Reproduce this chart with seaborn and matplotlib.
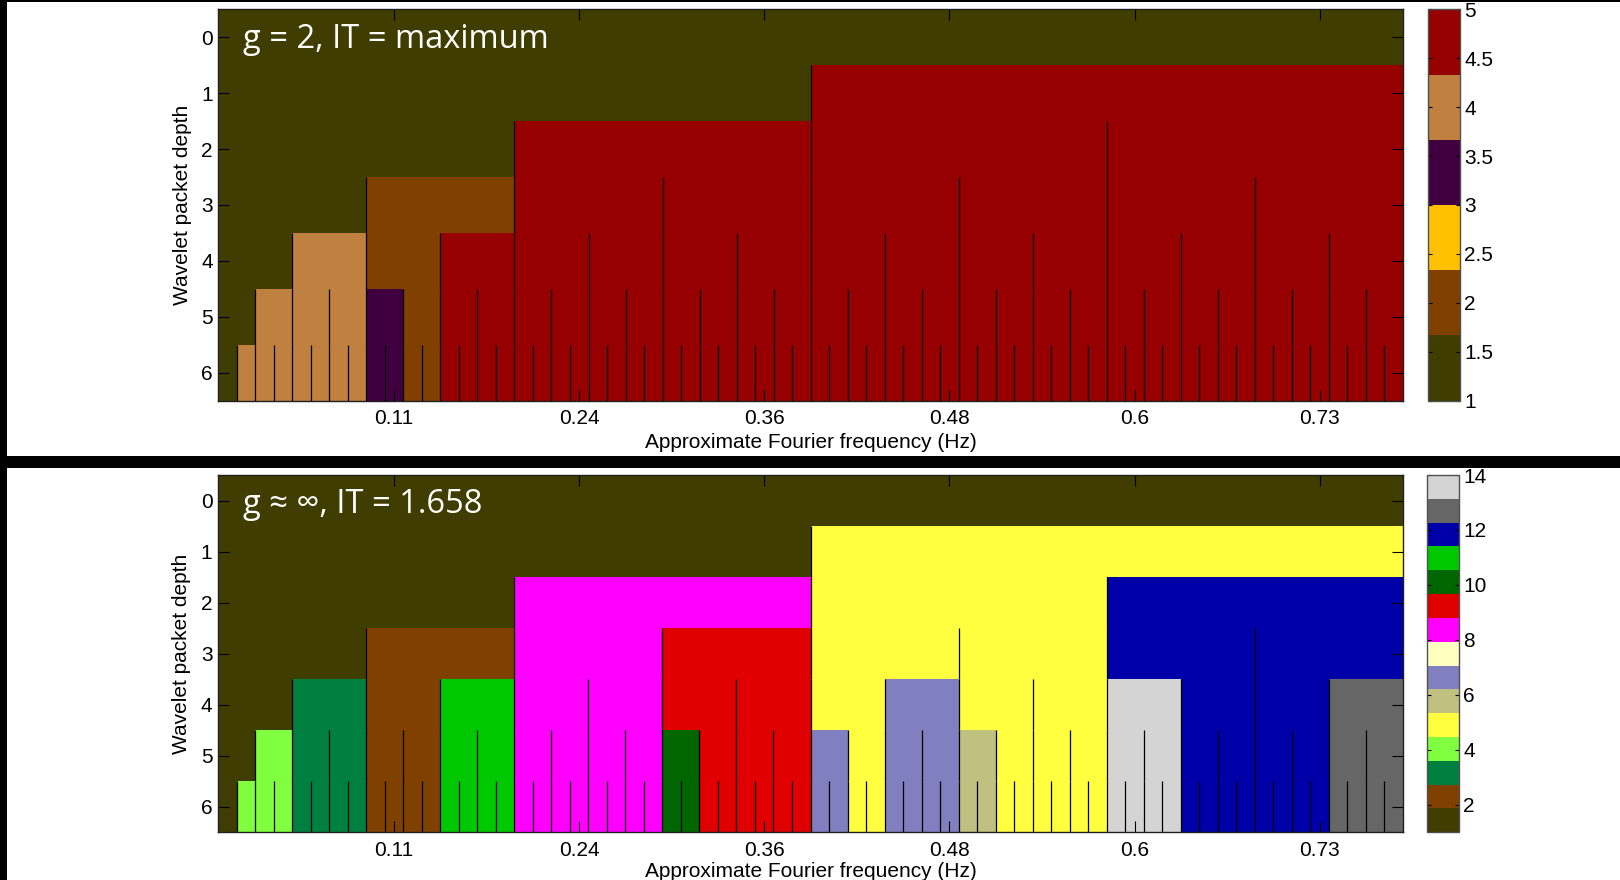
import numpy as np
import matplotlib
matplotlib.use("Agg")
import matplotlib.pyplot as plt
from matplotlib.colors import ListedColormap
from matplotlib.patches import Rectangle
import seaborn as sns

# ---------------------------------------------------------------------------
# Colour classes, listed from the bottom of each colour bar to the top
# ---------------------------------------------------------------------------
top_codes = ["K", "B", "Y", "P", "T", "R"]
top_colors = ["#3f3d00", "#804000", "#ffc000", "#400040", "#c08040", "#960000"]
top_range = (1, 5)
top_cbar_ticks = [1, 1.5, 2, 2.5, 3, 3.5, 4, 4.5, 5]

bottom_codes = ["K", "B", "G", "L", "Y", "H", "V", "C", "M", "R", "D", "N", "U", "A", "W"]
bottom_colors = ["#3f3d00", "#804000", "#008040", "#80ff40", "#ffff40", "#c0c080",
                 "#8080c0", "#ffffc0", "#ff00ff", "#e00000", "#006600", "#00c800",
                 "#0000a8", "#666666", "#d4d4d4"]
bottom_range = (1, 14)
bottom_cbar_ticks = [2, 4, 6, 8, 10, 12, 14]

# Class of every wavelet packet node, one string per depth (0..6),
# one letter per node from low to high frequency ("K" = split parent node)
top_tree = [
    "K",
    "KR",
    "KRRR",
    "KBRRRRRR",
    "KTBRRRRR RRRRRRRR",
    "KTTTPBRR RRRRRRRR RRRRRRRR RRRRRRRR",
    "KTTTTTTT PPBBRRRR RRRRRRRR RRRRRRRR RRRRRRRR RRRRRRRR RRRRRRRR RRRRRRRR",
]
bottom_tree = [
    "K",
    "KY",
    "KMYU",
    "KBMRYYUU",
    "KGBNMMRR YVYYWUUA",
    "KLGGBBNN MMMMDRRR VYVVHYYY WWUUUUAA",
    "KLLLGGGG BBBBNNNN MMMMMMMM DDRRRRRR VVYYVVVV HHYYYYYY WWWWUUUU UUUUAAAA",
]

# Frequency axis: bin numbers carrying a label and their labels
freq_tick_bins = [10, 20, 30, 40, 50, 60]
freq_tick_labels = ["0.11", "0.24", "0.36", "0.48", "0.6", "0.73"]
depths = [0, 1, 2, 3, 4, 5, 6]

top_title = "g = 2, IT = maximum"
bottom_title = "g \u2248 \u221e, IT = 1.658"

# ---------------------------------------------------------------------------
W, H = 1620, 880
plt.rcParams["font.family"] = ["Liberation Sans", "DejaVu Sans"]

fig = plt.figure(figsize=(W / 100, H / 100), dpi=100, facecolor="black")


def box(x0, y0, x1, y1):
    """Pixel box (top-left origin) -> figure fraction rect."""
    return [x0 / W, 1 - y1 / H, (x1 - x0) / W, (y1 - y0) / H]


# white panels on the black page
for (x0, y0, x1, y1) in [(7, 2, W, 456), (7, 468, W, H)]:
    r = box(x0, y0, x1, y1)
    fig.add_artist(Rectangle((r[0], r[1]), r[2], r[3], transform=fig.transFigure,
                             facecolor="white", edgecolor="none", zorder=-10))


def tree_matrix(tree, codes, lo, hi):
    n_leaf = 2 ** (len(tree) - 1)
    n = len(codes)
    rows = []
    for level in tree:
        nodes = level.replace(" ", "")
        span = n_leaf // len(nodes)
        vals = [lo + (codes.index(c) + 0.5) * (hi - lo) / n for c in nodes]
        rows.append(np.repeat(vals, span))
    return np.array(rows)


def draw_panel(ax, cax, tree, codes, colors, vrange, cticks, title, title_y):
    lo, hi = vrange
    data = tree_matrix(tree, codes, lo, hi)
    cmap = ListedColormap(colors)
    sns.heatmap(data, cmap=cmap, vmin=lo, vmax=hi, ax=ax, cbar_ax=cax,
                xticklabels=False, yticklabels=False,
                cbar_kws={"ticks": cticks})

    # node boundaries inside the decomposed part of the tree
    n_leaf = data.shape[1]
    xs, y0s, y1s = [], [], []
    for d, level in enumerate(tree):
        nodes = level.replace(" ", "")
        span = n_leaf // len(nodes)
        for j in range(1, len(nodes)):
            if nodes[j - 1] != "K" or nodes[j] != "K":
                xs.append(j * span)
                y0s.append(d)
                y1s.append(d + 1)
    ax.vlines(xs, y0s, y1s, colors="black", linewidth=0.9, zorder=3)

    for sp in ax.spines.values():
        sp.set_visible(True)
        sp.set_color("#202020")
        sp.set_linewidth(1.0)

    ax.set_xticks(np.array(freq_tick_bins) - 0.5)
    ax.set_xticklabels(freq_tick_labels)
    ax.set_yticks(np.array(depths) + 0.5)
    ax.set_yticklabels([str(d) for d in depths], rotation=0)
    ax.tick_params(axis="both", direction="in", length=8, width=0.8, color="black",
                   top=True, bottom=True, left=True, right=True, labelsize=15)
    ax.tick_params(axis="x", pad=6)
    ax.tick_params(axis="y", pad=4)

    ax.set_xlabel("Approximate Fourier frequency (Hz)", fontsize=15)
    ax.set_ylabel("Wavelet packet depth", fontsize=15)
    ax.yaxis.set_label_coords(-0.0225, 0.5)

    ax.text(0.021, title_y, title, transform=ax.transAxes, color="white",
            fontsize=23.5, family=["Open Sans", "DejaVu Sans"], ha="left", va="baseline")

    cb = ax.collections[0].colorbar
    cb.set_ticks(cticks, labels=[f"{t:g}" for t in cticks])
    cb.outline.set_linewidth(1.0)
    cb.outline.set_edgecolor("#505050")
    cax.tick_params(direction="in", length=3, width=0.8, left=True, right=True,
                    labelleft=False, labelright=True, labelsize=15, pad=3)


ax1 = fig.add_axes(box(218.3, 9.3, 1403, 400.7))
cax1 = fig.add_axes(box(1428.3, 9.3, 1460, 400.7))
draw_panel(ax1, cax1, top_tree, top_codes, top_colors, top_range, top_cbar_ticks,
           top_title, 0.902)
ax1.xaxis.set_label_coords(0.5, -0.082)

ax2 = fig.add_axes(box(218, 475, 1403, 832.3))
cax2 = fig.add_axes(box(1427.3, 475, 1459, 832.3))
draw_panel(ax2, cax2, bottom_tree, bottom_codes, bottom_colors, bottom_range,
           bottom_cbar_ticks, bottom_title, 0.893)
ax2.xaxis.set_label_coords(0.5, -0.083)

fig.savefig("out.png", dpi=100, facecolor=fig.get_facecolor())
